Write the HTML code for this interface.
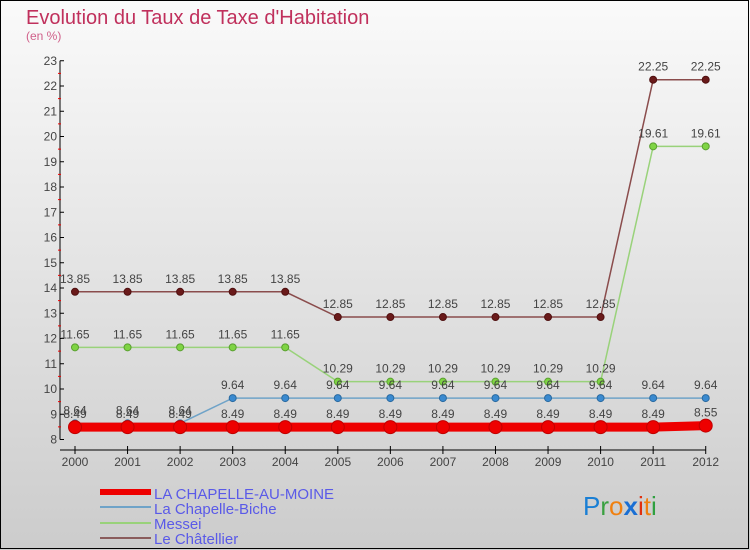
<!DOCTYPE html>
<html><head><meta charset="utf-8"><style>
body{margin:0}
#c{width:750px;height:550px;position:relative;overflow:hidden;background:linear-gradient(#fafafa,#cccccc);font-family:"Liberation Sans",sans-serif}
</style></head><body>
<div id="c">
<svg id="s" width="750" height="550" style="position:absolute;left:0;top:0" font-family="Liberation Sans,sans-serif">
<rect x="0.5" y="0.5" width="748" height="548" fill="none" stroke="#000"/>
<text x="26" y="24" font-size="20" fill="#c0305c">Evolution du Taux de Taxe d'Habitation</text>
<text x="26" y="40" font-size="12" fill="#d0608a">(en %)</text>
<g id="axes"></g><g id="series"></g>
<g font-size="15" fill="#5a5ae8">
<rect x="100" y="489" width="51" height="6" fill="#ee0000"/>
<text x="154" y="499">LA CHAPELLE-AU-MOINE</text>
<rect x="100" y="506" width="51" height="2" fill="#6fa3c8"/>
<text x="154" y="514">La Chapelle-Biche</text>
<rect x="100" y="522" width="51" height="2" fill="#99d27a"/>
<text x="154" y="529">Messei</text>
<rect x="100" y="537" width="51" height="2" fill="#8a5c5c"/>
<text x="154" y="544">Le Châtellier</text>
</g>
<g font-size="26">
<text x="583" y="515"><tspan fill="#1a7fd4">P</tspan><tspan fill="#3aa040">r</tspan><tspan fill="#f08010">o</tspan><tspan fill="#1a6fd4" font-weight="bold">x</tspan><tspan fill="#e03010">i</tspan><tspan fill="#f08010">t</tspan><tspan fill="#30a040">i</tspan></text>
</g>
</svg>
</div>
<script>
const years=[2000,2001,2002,2003,2004,2005,2006,2007,2008,2009,2010,2011,2012];
const chapelleMoine=[8.49,8.49,8.49,8.49,8.49,8.49,8.49,8.49,8.49,8.49,8.49,8.49,8.55];
const chapelleBiche=[8.64,8.64,8.64,9.64,9.64,9.64,9.64,9.64,9.64,9.64,9.64,9.64,9.64];
const messei=[11.65,11.65,11.65,11.65,11.65,10.29,10.29,10.29,10.29,10.29,10.29,19.61,19.61];
const chatellier=[13.85,13.85,13.85,13.85,13.85,12.85,12.85,12.85,12.85,12.85,12.85,22.25,22.25];
const yTicks=[8,9,10,11,12,13,14,15,16,17,18,19,20,21,22,23];
const NS='http://www.w3.org/2000/svg';
const xs=i=>75+i*52.56;
const ys=v=>439.5-(v-8)*25.25;
function mk(t,a,p){const e=document.createElementNS(NS,t);for(const k in a)e.setAttribute(k,a[k]);p.appendChild(e);return e;}
const ax=document.getElementById('axes');
let l=mk('line',{x1:60,y1:ys(23),x2:60,y2:ys(8),stroke:'#000'},ax);


l=mk('line',{x1:60,y1:450,x2:706,y2:450,stroke:'#000'},ax);


yTicks.forEach(v=>{
 const y=ys(v);
 mk('line',{x1:60,y1:y,x2:64,y2:y,stroke:'#000'},ax);
 if(v<23)mk('line',{x1:58,y1:ys(v+0.5),x2:61,y2:ys(v+0.5),stroke:'#e00'},ax);
 const t=mk('text',{x:57,y:y+4,'font-size':12,fill:'#444','text-anchor':'end'},ax);
 t.textContent=v;
 
 
});
years.forEach((yr,i)=>{
 const x=xs(i);
 mk('line',{x1:x,y1:446,x2:x,y2:454,stroke:'#000'},ax);
 const t=mk('text',{x:x,y:466,'font-size':12,fill:'#444','text-anchor':'middle'},ax);
 t.textContent=yr;
 
 
});
const sg=document.getElementById('series');
function draw(name,vals,color,dot,w,r,stroke){
 const g=mk('g',{},sg);
 
 
 mk('polyline',{points:vals.map((v,i)=>xs(i)+','+ys(v)).join(' '),fill:'none',stroke:color,'stroke-width':w},g);
 vals.forEach((v,i)=>{
  const c=mk('circle',{cx:xs(i),cy:ys(v),r:r,fill:dot,stroke:stroke,'stroke-width':1},g);
  
  
  const t=mk('text',{x:xs(i),y:ys(v)-9,'font-size':12,fill:'#444','text-anchor':'middle'},g);
  t.textContent=String(v);
  
  
 });
}
draw('chatellier',chatellier,'#8a4c4c','#6a1a1a',1.5,3.5,'#501010');
draw('messei',messei,'#99d27a','#7fd444',1.5,3.5,'#5aa030');
draw('chapelle-biche',chapelleBiche,'#6fa3c8','#3a8ad0',1.5,3.5,'#2a6aa0');
draw('chapelle-au-moine',chapelleMoine,'#ee0000','#ee0000',9,6.5,'#c00000');
</script>
</body></html>
